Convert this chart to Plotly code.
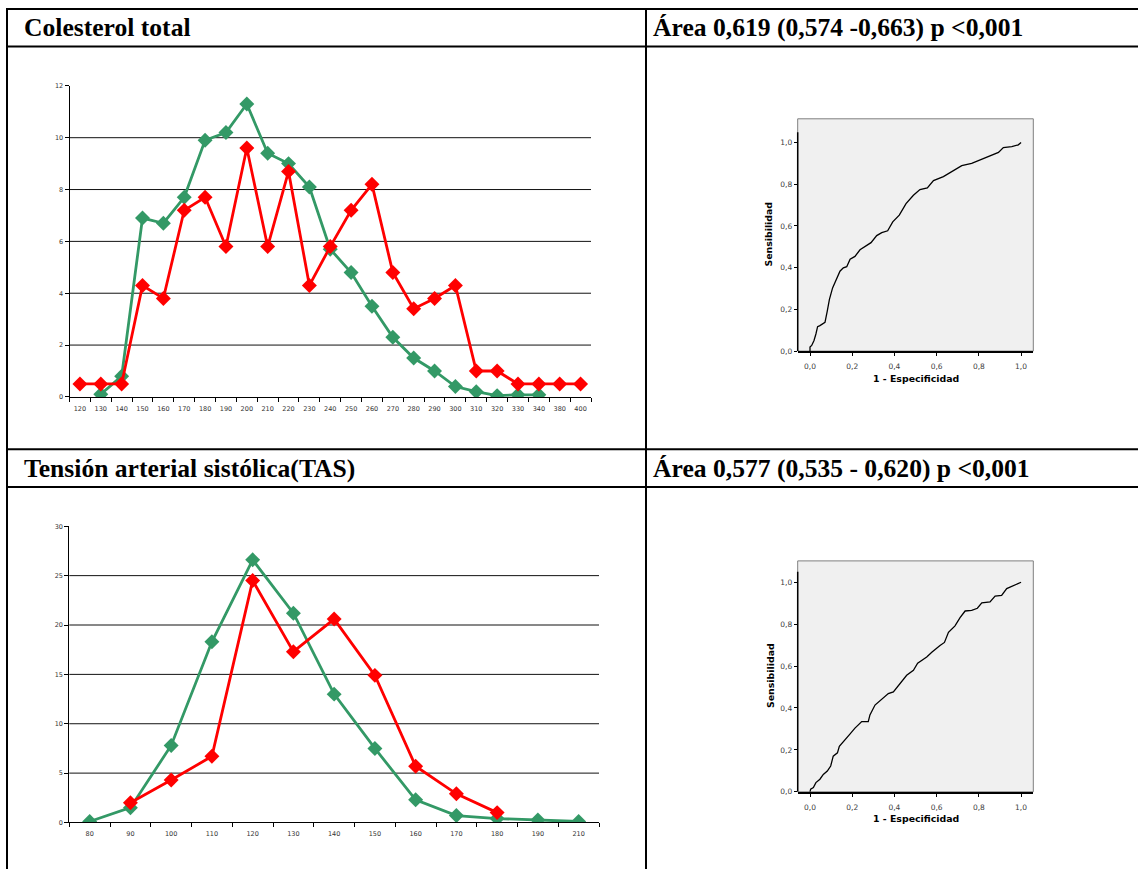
import plotly.graph_objects as go

# ---------------- data ----------------
chol_cats = ["120", "130", "140", "150", "160", "170", "180", "190", "200", "210",
             "220", "230", "240", "250", "260", "270", "280", "290", "300", "310",
             "320", "330", "340", "380", "400"]
chol_red = [0.5, 0.5, 0.5, 4.3, 3.8, 7.2, 7.7, 5.8, 9.6, 5.8,
            8.7, 4.3, 5.8, 7.2, 8.2, 4.8, 3.4, 3.8, 4.3, 1.0,
            1.0, 0.5, 0.5, 0.5, 0.5]
chol_green = [None, 0.1, 0.8, 6.9, 6.7, 7.7, 9.9, 10.2, 11.3, 9.4,
              9.0, 8.1, 5.7, 4.8, 3.5, 2.3, 1.5, 1.0, 0.4, 0.2,
              0.05, 0.08, 0.08, None, None]

tas_cats = ["80", "90", "100", "110", "120", "130", "140", "150", "160", "170",
            "180", "190", "210"]
tas_red = [None, 2.0, 4.3, 6.7, 24.5, 17.3, 20.6, 14.9, 5.7, 2.9, 1.0, None, None]
tas_green = [0.1, 1.5, 7.8, 18.3, 26.6, 21.2, 13.0, 7.5, 2.3, 0.7, 0.4, 0.25, 0.1]

roc1_fpr = [0.0, 0.0, 0.008, 0.019, 0.028, 0.036, 0.047, 0.063, 0.071, 0.082,
            0.092, 0.107, 0.126, 0.142, 0.158, 0.174, 0.19, 0.213, 0.237, 0.261,
            0.289, 0.316, 0.34, 0.368, 0.392, 0.423, 0.455, 0.49, 0.521, 0.556,
            0.585, 0.632, 0.679, 0.719, 0.766, 0.798, 0.853, 0.893, 0.916, 0.956,
            0.987, 1.0]
roc1_sens = [0.0, 0.019, 0.027, 0.051, 0.082, 0.117, 0.122, 0.133, 0.138, 0.193,
             0.248, 0.303, 0.351, 0.383, 0.399, 0.405, 0.441, 0.454, 0.486, 0.502,
             0.520, 0.554, 0.568, 0.577, 0.620, 0.652, 0.707, 0.747, 0.775, 0.783,
             0.818, 0.837, 0.866, 0.889, 0.900, 0.913, 0.934, 0.953, 0.976, 0.981,
             0.989, 1.0]

roc2_fpr = [0.0, 0.003, 0.016, 0.028, 0.047, 0.063, 0.082, 0.098, 0.11, 0.13,
            0.139, 0.166, 0.186, 0.213, 0.245, 0.276, 0.284, 0.308, 0.34, 0.371,
            0.395, 0.427, 0.458, 0.49, 0.51, 0.553, 0.577, 0.616, 0.637, 0.656,
            0.687, 0.711, 0.735, 0.766, 0.793, 0.814, 0.853, 0.877, 0.908, 0.932,
            0.956, 0.979, 1.0]
roc2_sens = [0.0, 0.013, 0.02, 0.044, 0.06, 0.083, 0.099, 0.123, 0.17, 0.186,
             0.217, 0.246, 0.272, 0.304, 0.335, 0.335, 0.367, 0.414, 0.441, 0.469,
             0.477, 0.517, 0.556, 0.58, 0.614, 0.643, 0.666, 0.698, 0.713, 0.761,
             0.792, 0.831, 0.863, 0.866, 0.876, 0.902, 0.906, 0.934, 0.937, 0.970,
             0.981, 0.992, 1.0]

roc_ticks = [0.0, 0.2, 0.4, 0.6, 0.8, 1.0]
roc_ticktext = ["0,0", "0,2", "0,4", "0,6", "0,8", "1,0"]

header_left_1 = "Colesterol total"
header_right_1 = "Área 0,619 (0,574 -0,663) p <0,001"
header_left_2 = "Tensión arterial sistólica(TAS)"
header_right_2 = "Área 0,577 (0,535 - 0,620) p <0,001"

# ---------------- page geometry (pixels) ----------------
W, H = 1138, 874


def px(x):
    return x / W


def py(y):
    return 1 - y / H


GREEN = "#339966"
RED = "#FF0000"
SANS = "DejaVu Sans, Arial, sans-serif"
SERIF = "Liberation Serif, Times New Roman, serif"

fig = go.Figure()


def add_freq(cats, green, red, xa, ya):
    for vals, col in ((green, GREEN), (red, RED)):
        fig.add_trace(go.Scatter(
            x=cats, y=vals, mode="lines+markers", xaxis=xa, yaxis=ya,
            line=dict(color=col, width=2.8),
            marker=dict(symbol="diamond", size=11.5, color=col, line=dict(width=0)),
            showlegend=False, hoverinfo="x+y"))


add_freq(chol_cats, chol_green, chol_red, "x", "y")
add_freq(tas_cats, tas_green, tas_red, "x2", "y2")

for fpr, sens, xa, ya in ((roc1_fpr, roc1_sens, "x3", "y3"), (roc2_fpr, roc2_sens, "x4", "y4")):
    fig.add_trace(go.Scatter(
        x=fpr, y=sens, mode="lines", xaxis=xa, yaxis=ya,
        line=dict(color="black", width=1.3), showlegend=False))

freq_tickfont = dict(family=SANS, size=6.5, color="#333333")
roc_tickfont = dict(family=SANS, size=7.5, color="#404040")

freq_x = dict(type="category", showline=True, linecolor="black", linewidth=1,
              ticks="outside", tickson="boundaries", ticklen=4, tickcolor="black",
              tickangle=0, ticklabelstandoff=5, tickfont=freq_tickfont,
              showgrid=False, zeroline=False, fixedrange=True)
freq_y = dict(showline=True, linecolor="black", linewidth=1, ticks="outside",
              ticklen=4, tickcolor="black", tickfont=freq_tickfont, showgrid=False,
              zeroline=False, fixedrange=True)

roc_x = dict(range=[-0.0583, 1.058], tickvals=roc_ticks, ticktext=roc_ticktext,
             showline=True, linecolor="black", linewidth=1.5, ticks="outside",
             ticklen=3, tickcolor="black", tickangle=0, ticklabelstandoff=4,
             tickfont=roc_tickfont, showgrid=False, zeroline=False, fixedrange=True)
roc_y = dict(tickvals=roc_ticks, ticktext=roc_ticktext, showline=False,
             ticks="outside", ticklen=3, tickcolor="black", tickfont=roc_tickfont,
             showgrid=False, zeroline=False, fixedrange=True)

fig.update_layout(
    width=W, height=H, margin=dict(l=0, r=0, t=0, b=0),
    paper_bgcolor="white", plot_bgcolor="rgba(0,0,0,0)",
    xaxis=dict(freq_x, domain=[px(69.5), px(591)], anchor="y",
               categoryorder="array", categoryarray=chol_cats,
               range=[-0.5, len(chol_cats) - 0.5]),
    yaxis=dict(freq_y, domain=[py(397), py(82.7)], anchor="x", range=[0, 12], dtick=2),
    xaxis2=dict(freq_x, domain=[px(69.3), px(599)], anchor="y2",
                categoryorder="array", categoryarray=tas_cats,
                range=[-0.5, len(tas_cats) - 0.5]),
    yaxis2=dict(freq_y, domain=[py(827), py(527.7)], anchor="x2", range=[0, 30], dtick=5),
    xaxis3=dict(roc_x, domain=[px(797.7), px(1033.3)], anchor="y3"),
    yaxis3=dict(roc_y, domain=[py(350.7), py(116)], anchor="x3", range=[0, 1.114]),
    xaxis4=dict(roc_x, domain=[px(797.7), px(1033.3)], anchor="y4"),
    yaxis4=dict(roc_y, domain=[py(796), py(562.7)], anchor="x4", range=[0, 1.102]),
)

shapes = []
# horizontal gridlines of the frequency charts
for v in range(2, 12, 2):
    shapes.append(dict(type="line", xref="x domain", yref="y", x0=0, x1=1, y0=v, y1=v,
                       line=dict(color="#111111", width=1), layer="below"))
for v in range(5, 30, 5):
    shapes.append(dict(type="line", xref="x2 domain", yref="y2", x0=0, x1=1, y0=v, y1=v,
                       line=dict(color="#111111", width=1), layer="below"))

# ROC panels: grey plotting area, frame and left axis
for xa, ya in (("x3", "y3"), ("x4", "y4")):
    shapes.append(dict(type="rect", xref=f"{xa} domain", yref=f"{ya} domain",
                       x0=0, x1=1, y0=0, y1=1, fillcolor="#F0F0F0",
                       line=dict(color="#7F7F7F", width=1), layer="below"))
    shapes.append(dict(type="line", xref=f"{xa} domain", yref=ya,
                       x0=0, x1=0, y0=0, y1=1.05,
                       line=dict(color="black", width=1.5), layer="above"))

# table rules
rule = dict(color="black", width=2)
for y in (5, 43, 450, 488):
    shapes.append(dict(type="line", xref="paper", yref="paper",
                       x0=px(6), x1=1, y0=py(y), y1=py(y), line=rule))
for x in (7, 646):
    shapes.append(dict(type="line", xref="paper", yref="paper",
                       x0=px(x), x1=px(x), y0=py(4), y1=0, line=rule))

fig.update_layout(shapes=shapes)

annotations = []
for text, x, y in ((header_left_1, 22, 24), (header_right_1, 651, 24),
                   (header_left_2, 22, 469), (header_right_2, 651, 469)):
    annotations.append(dict(text=f"<b>{text}</b>", xref="paper", yref="paper",
                            x=px(x), y=py(y), xanchor="left", yanchor="middle",
                            showarrow=False,
                            font=dict(family=SERIF, size=25.6, color="black")))

axis_title_font = dict(family=SANS, size=9.4, color="black")
for ty, sx, sy in ((378, 769, 233), (823, 770, 679)):
    annotations.append(dict(text="<b>1 - Especificidad</b>", xref="paper", yref="paper",
                            x=px(915.5), y=py(ty), xanchor="center", yanchor="middle",
                            showarrow=False, font=axis_title_font))
    annotations.append(dict(text="<b>Sensibilidad</b>", xref="paper", yref="paper",
                            x=px(sx), y=py(sy), xanchor="center", yanchor="middle",
                            showarrow=False, textangle=-90, font=axis_title_font))

fig.update_layout(annotations=annotations)

fig.write_html("out.html")
